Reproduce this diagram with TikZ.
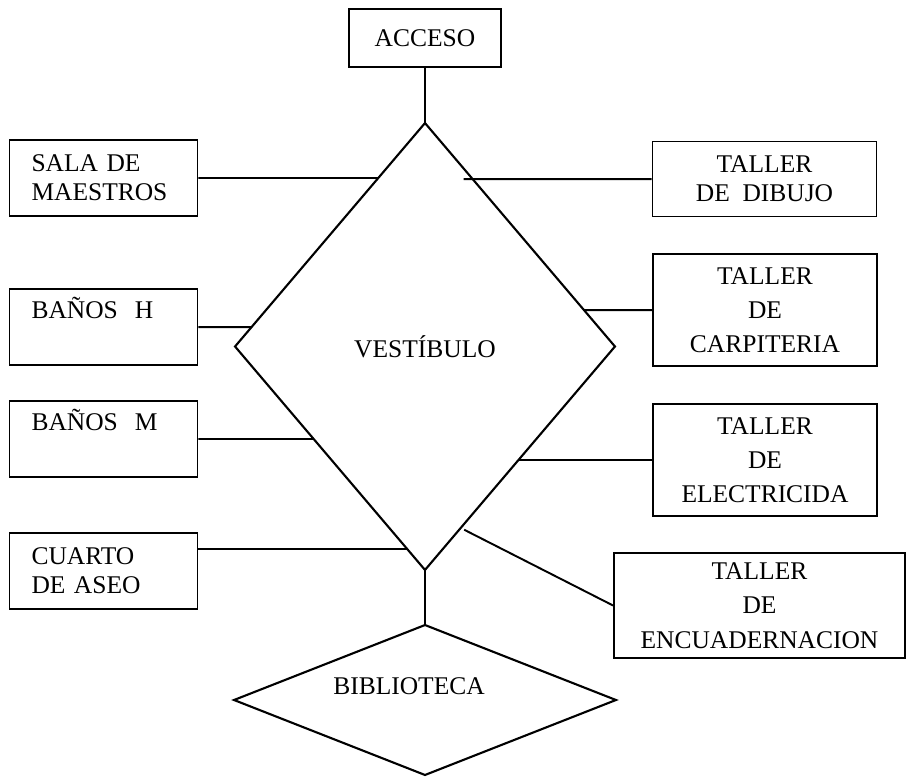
\documentclass[tikz,border=0pt]{standalone}
\usepackage{fontspec}
\setmainfont{Liberation Serif}
\usetikzlibrary{shapes.geometric,calc}

\begin{document}
\begin{tikzpicture}[
    x=0.02cm, y=-0.02cm,
    font=\fontsize{14.5}{16.5}\selectfont,
    room/.style={draw, line width=1.1pt, inner sep=0pt},
    left room/.style={room, minimum width=3.76cm, minimum height=1.52cm, text width=2.88cm, align=left, inner xsep=0.44cm},
    right room/.style={room, minimum width=4.48cm, align=center},
    tall room/.style={minimum height=2.24cm, font=\fontsize{14.5}{19.5}\selectfont},
    hub/.style={diamond, draw, line width=1.2pt, inner sep=0pt, outer sep=0pt},
    link/.style={line width=1.1pt}
]
    \useasboundingbox (0,0) rectangle (910,777);

    % Entrance and central hall
    \node[room, minimum width=3.04cm, minimum height=1.16cm] (acceso) at (425,38) {ACCESO};
    \node[hub, minimum width=7.6cm, minimum height=8.94cm] (vest) at (425,346.5) {VEST\'IBULO};

    % Library
    \node[hub, minimum width=7.64cm, minimum height=3cm] (bib) at (425,700) {};
    \node (bibtxt) at (409,686) {BIBLIOTECA};

    % Rooms on the left
    \node[left room] (sala) at (103.5,178) {SALA DE\\MAESTROS};
    \node[left room] (banosH) at (103.5,327) {BAÑOS~~H\\\strut};
    \node[left room] (banosM) at (103.5,439) {BAÑOS~~M\\\strut};
    \node[left room] (aseo) at (103.5,571) {CUARTO\\DE ASEO};

    % Workshops on the right
    \node[right room, minimum height=1.5cm] (dibujo) at (764.5,179) {TALLER\\DE~~DIBUJO};
    \node[right room, tall room] (carp) at (765,310) {TALLER\\DE\\CARPITERIA};
    \node[right room, tall room] (elec) at (765,460) {TALLER\\DE\\ELECTRICIDA};
    \node[right room, tall room, minimum width=5.82cm, minimum height=2.1cm] (encuad) at (759.5,605.5) {TALLER\\DE\\ENCUADERNACION};

    % Points on the hall border
    \coordinate (e sala) at ($(vest.north)!0.246!(vest.west)$);
    \coordinate (e banosH) at ($(vest.north)!0.913!(vest.west)$);
    \coordinate (e banosM) at ($(vest.west)!0.414!(vest.south)$);
    \coordinate (e aseo) at ($(vest.west)!0.906!(vest.south)$);
    \coordinate (e dibujo) at ($(vest.north)!0.251!(vest.east)$);
    \coordinate (e carp) at ($(vest.north)!0.837!(vest.east)$);
    \coordinate (e elec) at ($(vest.east)!0.508!(vest.south)$);
    \coordinate (e encuad) at ($(vest.east)!0.82!(vest.south)$);

    % Connections
    \draw[link] (acceso) -- (vest);
    \draw[link] (vest) -- (bib);
    \draw[link] (sala) -- (e sala);
    \draw[link] (banosH) -- (e banosH);
    \draw[link] (banosM) -- (e banosM);
    \draw[link] (aseo.east |- e aseo) -- (e aseo);
    \draw[link] (dibujo) -- ([xshift=-0.18cm]e dibujo);
    \draw[link] (carp) -- (e carp);
    \draw[link] (elec) -- (e elec);
    \draw[link] ([xshift=0.1cm]e encuad) -- (encuad.west);
\end{tikzpicture}
\end{document}
